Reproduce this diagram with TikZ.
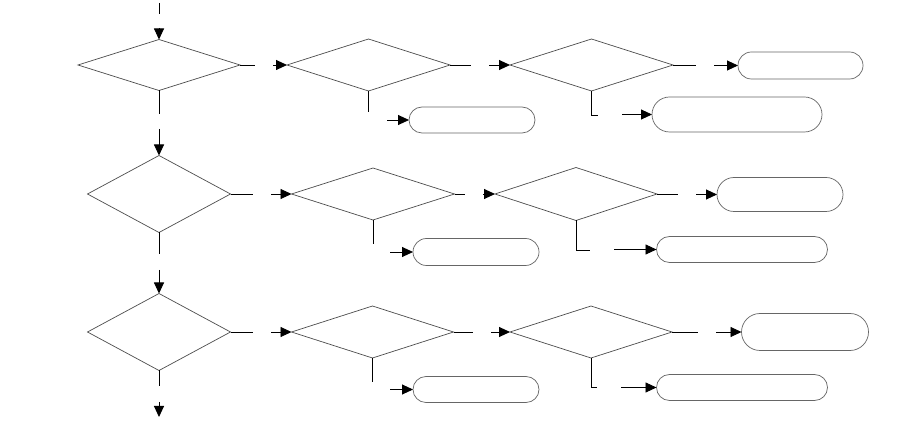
\documentclass[tikz,border=0pt]{standalone}
\usetikzlibrary{shapes.geometric,shapes.misc,arrows.meta}
\begin{document}
\begin{tikzpicture}[x=1pt,y=-1pt,
  dia/.style={draw=black!70,line width=0.7pt,diamond,inner sep=0pt,outer sep=0pt},
  rbox/.style={draw=black!60,line width=0.7pt,rounded rectangle,inner sep=0pt,outer sep=0pt},
  con/.style={draw=black,line width=0.9pt},
  arr/.style={con,-{Triangle[length=11pt,width=10pt]}}]
\useasboundingbox[fill=white] (0,0) rectangle (900,427);
% row 1
\node[dia,minimum width=162pt,minimum height=51pt] (D1) at (159,65) {};
\node[dia,minimum width=163pt,minimum height=52pt] (D1b) at (368.5,65) {};
\node[dia,minimum width=163pt,minimum height=52pt] (D1c) at (591.5,65) {};
\node[rbox,minimum width=125pt,minimum height=27pt] (R1a) at (800.5,65.5) {};
\node[rbox,minimum width=126pt,minimum height=26pt] (R1b) at (472,120) {};
\node[rbox,minimum width=170pt,minimum height=35pt] (R1c) at (737,114.5) {};
% row 2
\node[dia,minimum width=143pt,minimum height=77pt] (D2) at (159,194) {};
\node[dia,minimum width=163pt,minimum height=52pt] (D2b) at (373,194) {};
\node[dia,minimum width=162pt,minimum height=53pt] (D2c) at (576,194) {};
\node[rbox,minimum width=126pt,minimum height=34pt] (R2a) at (780,194.5) {};
\node[rbox,minimum width=126pt,minimum height=27pt] (R2b) at (476,252) {};
\node[rbox,minimum width=171pt,minimum height=26pt] (R2c) at (742,249.5) {};
% row 3
\node[dia,minimum width=143pt,minimum height=77pt] (D3) at (159,332) {};
\node[dia,minimum width=162pt,minimum height=52pt] (D3b) at (372.5,332) {};
\node[dia,minimum width=162pt,minimum height=52pt] (D3c) at (591,332) {};
\node[rbox,minimum width=127pt,minimum height=37pt] (R3a) at (805,332) {};
\node[rbox,minimum width=126pt,minimum height=26pt] (R3b) at (476,389.5) {};
\node[rbox,minimum width=171pt,minimum height=26pt] (R3c) at (742,387.5) {};
% coordinates
\coordinate (t0) at (159,3); \coordinate (t1) at (159,14); \coordinate (t2) at (159,28);
\coordinate (a1) at (159,114); \coordinate (a2) at (159,129);
\coordinate (b1) at (255,65); \coordinate (b2) at (273,65);
\coordinate (c1) at (471,65); \coordinate (c2) at (489,65);
\coordinate (e1) at (696,65); \coordinate (e2) at (714,65.5);
\coordinate (f1) at (368.5,112); \coordinate (f2) at (387,120);
\coordinate (g1) at (598,115); \coordinate (g2) at (622,114.5);
\coordinate (h1) at (159,254); \coordinate (h2) at (159,270);
\coordinate (i1) at (253,194); \coordinate (i2) at (271,194);
\coordinate (j1) at (465,194); \coordinate (j2) at (483,194);
\coordinate (k1) at (678,194); \coordinate (k2) at (696,194.5);
\coordinate (l1) at (373,244); \coordinate (l2) at (390,252);
\coordinate (m1) at (590,250); \coordinate (m2) at (614,249.5);
\coordinate (n1) at (159,386); \coordinate (n2) at (159,402); \coordinate (n3) at (159,417);
\coordinate (o1) at (253,332); \coordinate (o2) at (271,332);
\coordinate (p1) at (473,332); \coordinate (p2) at (491,332);
\coordinate (q1) at (698,332); \coordinate (q2) at (716,332);
\coordinate (r1) at (372.5,382); \coordinate (r2) at (390,389.5);
\coordinate (s1) at (597,387); \coordinate (s2) at (621,387.5);
% connectors
\draw[con] (t0) -- (t1); \draw[arr] (t2) -- (D1.north);
\draw[con] (D1.south) -- (a1); \draw[arr] (a2) -- (D2.north);
\draw[con] (D1.east) -- (b1); \draw[arr] (b2) -- (D1b.west);
\draw[con] (D1b.east) -- (c1); \draw[arr] (c2) -- (D1c.west);
\draw[con] (D1c.east) -- (e1); \draw[arr] (e2) -- (R1a.west);
\draw[con] (D1b.south) -- (f1); \draw[arr] (f2) -- (R1b.west);
\draw[con] (D1c.south) |- (g1); \draw[arr] (g2) -- (R1c.west);
\draw[con] (D2.south) -- (h1); \draw[arr] (h2) -- (D3.north);
\draw[con] (D2.east) -- (i1); \draw[arr] (i2) -- (D2b.west);
\draw[con] (D2b.east) -- (j1); \draw[arr] (j2) -- (D2c.west);
\draw[con] (D2c.east) -- (k1); \draw[arr] (k2) -- (R2a.west);
\draw[con] (D2b.south) -- (l1); \draw[arr] (l2) -- (R2b.west);
\draw[con] (D2c.south) |- (m1); \draw[arr] (m2) -- (R2c.west);
\draw[con] (D3.south) -- (n1); \draw[arr] (n2) -- (n3);
\draw[con] (D3.east) -- (o1); \draw[arr] (o2) -- (D3b.west);
\draw[con] (D3b.east) -- (p1); \draw[arr] (p2) -- (D3c.west);
\draw[con] (D3c.east) -- (q1); \draw[arr] (q2) -- (R3a.west);
\draw[con] (D3b.south) -- (r1); \draw[arr] (r2) -- (R3b.west);
\draw[con] (D3c.south) |- (s1); \draw[arr] (s2) -- (R3c.west);
\end{tikzpicture}
\end{document}
